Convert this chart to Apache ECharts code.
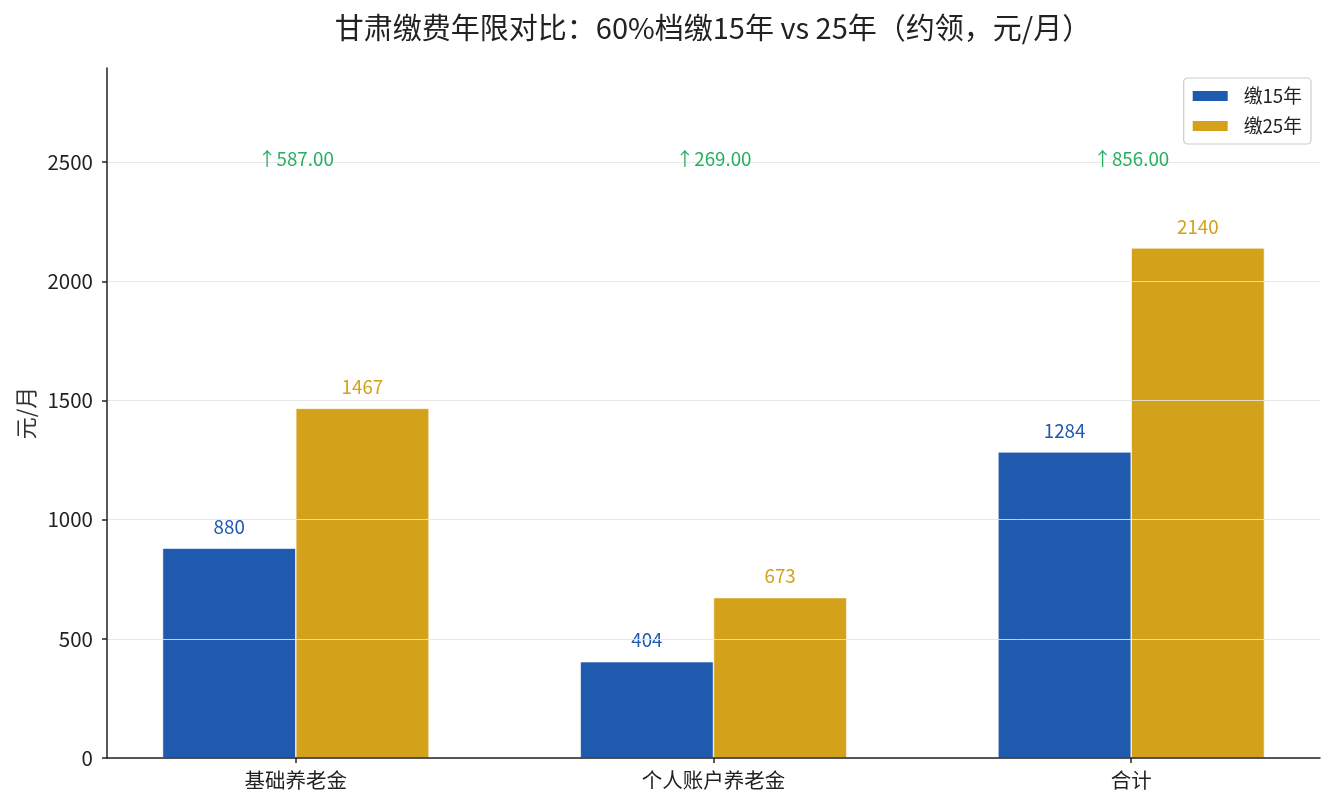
<!DOCTYPE html>
<html>
<head>
<meta charset="utf-8">
<script src="https://cdn.jsdelivr.net/npm/echarts@6/dist/echarts.min.js"></script>
<style>
html,body{margin:0;padding:0;background:#fff;}
#chart{width:1335px;height:810px;}
</style>
</head>
<body>
<div id="chart"></div>
<script>
// ---- data ----
const categories = ['基础养老金', '个人账户养老金', '合计'];
const seriesNames = ['缴15年', '缴25年'];
const pay15 = [880, 404, 1284];
const pay25 = [1467, 673, 2140];
const yTicks = [0, 500, 1000, 1500, 2000, 2500];
const annotLevel = 2512;   // height of the "↑ difference" notes
const yMax = 2895;

const FONT = '"Noto Sans CJK SC", "Noto Sans", sans-serif';
const BLUE = '#1f5aae';
const GOLD = '#d4a11a';
const GREEN = '#27ae60';

const idx = categories.map((_, i) => i);
const diffs = idx.map(i => pay25[i] - pay15[i]);

const chart = echarts.init(document.getElementById('chart'), null, {renderer: 'canvas'});

const barLabel = (color) => ({
  show: true, position: 'top', distance: 12,
  color: color, fontSize: 18.75, fontFamily: FONT
});

chart.setOption({
  animation: false,
  backgroundColor: '#fff',
  textStyle: {fontFamily: FONT},
  title: {
    text: '甘肃缴费年限对比：60%档缴15年 vs 25年（约领，元/月）',
    left: 713, top: 13, textAlign: 'center', padding: 0,
    textStyle: {fontSize: 29, fontWeight: 'normal', color: '#222', fontFamily: FONT}
  },
  legend: {
    data: seriesNames,
    orient: 'vertical',
    right: 24, top: 78,
    padding: [8.5, 9, 8.5, 7],
    itemGap: 11,
    itemWidth: 37, itemHeight: 12,
    borderColor: '#cccccc', borderWidth: 1.2, borderRadius: 4,
    backgroundColor: '#fff',
    icon: 'rect',
    textStyle: {fontSize: 18.75, color: '#222', fontFamily: FONT, padding: [0, 0, 0, 10], lineHeight: 19}
  },
  grid: {left: 107, right: 15, top: 68, bottom: 52, containLabel: false},
  xAxis: {
    type: 'value',
    min: -0.452, max: 2.452,
    z: 5,
    axisLine: {show: true, onZero: false, lineStyle: {color: '#222', width: 1.5}},
    axisTick: {show: true, customValues: idx, length: 5, inside: false, lineStyle: {color: '#222', width: 1.5}},
    axisLabel: {
      customValues: idx, margin: 12, fontSize: 20.5, color: '#222', fontFamily: FONT,
      formatter: (v) => categories[Math.round(v)]
    },
    splitLine: {show: false}
  },
  yAxis: {
    type: 'value',
    min: 0, max: yMax,
    z: 5,
    name: '元/月',
    nameLocation: 'middle',
    nameGap: 69,
    nameRotate: 90,
    nameTextStyle: {fontSize: 22, color: '#333', fontFamily: FONT},
    axisLine: {show: true, onZero: false, lineStyle: {color: '#222', width: 1.5}},
    axisTick: {show: true, customValues: yTicks, length: 5, lineStyle: {color: '#222', width: 1.5}},
    axisLabel: {customValues: yTicks, margin: 14, fontSize: 20.5, color: '#222', fontFamily: FONT,
      formatter: (v) => String(v)},
    splitLine: {show: true, lineStyle: {color: 'rgba(228,228,228,0.85)', width: 1}}
  },
  series: [
    {
      name: seriesNames[0], type: 'bar',
      data: idx.map(i => [i, pay15[i]]),
      barWidth: '31.9%', barGap: '0%',
      itemStyle: {color: BLUE, borderColor: '#fff', borderWidth: 0.6},
      label: barLabel(BLUE)
    },
    {
      name: seriesNames[1], type: 'bar',
      data: idx.map(i => [i, pay25[i]]),
      barWidth: '31.9%', barGap: '0%',
      itemStyle: {color: GOLD, borderColor: '#fff', borderWidth: 0.6},
      label: barLabel(GOLD)
    },
    {
      name: 'diff', type: 'scatter',
      z: 10,
      data: idx.map(i => [i, annotLevel]),
      symbolSize: 0,
      itemStyle: {color: GREEN, opacity: 1},
      silent: true,
      label: {
        show: true, position: 'inside',
        formatter: (p) => '↑' + diffs[p.dataIndex].toFixed(2),
        color: GREEN, fontSize: 18.75, fontFamily: FONT, opacity: 1,
        textBorderWidth: 0, textBorderColor: 'transparent'
      }
    }
  ]
});
</script>
</body>
</html>
